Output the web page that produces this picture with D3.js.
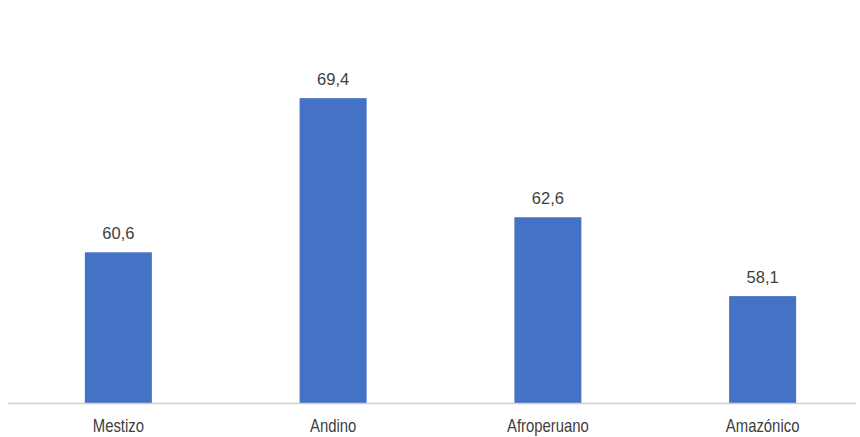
<!DOCTYPE html>
<html>
  <head>
    <meta charset="utf-8">
    <script src="https://d3js.org/d3.v7.min.js"></script>
    <style>
      body { margin: 0; background: #fff; }
      .lbl { font-family: "Liberation Sans Narrow", "Arial Narrow", "Liberation Sans", Arial, sans-serif; fill: #404040; }
    </style>
  </head>
  <body>
    <svg id="chart" width="860" height="437"></svg>
    <script>
      // Chart data
      var categories = ["Mestizo", "Andino", "Afroperuano", "Amazónico"];
      var values = [60.6, 69.4, 62.6, 58.1];

      var svg = d3.select("#chart");
      var baseY = 403;

      var x = d3.scaleBand()
        .domain(categories)
        .range([11, 870])
        .paddingInner(0.688)
        .paddingOuter(0.344);

      var y = d3.scaleLinear()
        .domain([52, 75])
        .range([baseY, 0]);

      // bars
      svg.selectAll("rect.bar")
        .data(values)
        .enter()
        .append("rect")
        .attr("class", "bar")
        .attr("x", function(d, i) { return x(categories[i]); })
        .attr("y", function(d) { return y(d); })
        .attr("width", x.bandwidth())
        .attr("height", function(d) { return baseY - y(d); })
        .attr("fill", "#4472C4");

      // baseline
      svg.append("line")
        .attr("x1", 8).attr("x2", 856)
        .attr("y1", baseY + 0.5).attr("y2", baseY + 0.5)
        .attr("stroke", "#d0d0d0")
        .attr("stroke-width", 1.5);

      // value labels
      svg.selectAll("text.val")
        .data(values)
        .enter()
        .append("text")
        .attr("class", "lbl val")
        .attr("x", function(d, i) { return x(categories[i]) + x.bandwidth() / 2; })
        .attr("y", function(d) { return y(d) - 13; })
        .attr("text-anchor", "middle")
        .attr("font-size", 16.5)
        .text(function(d) { return d3.format(".1f")(d).replace(".", ","); });

      // category labels (condensed look of the original)
      svg.selectAll("text.cat")
        .data(categories)
        .enter()
        .append("text")
        .attr("class", "lbl cat")
        .attr("transform", function(d) {
          return "translate(" + (x(d) + x.bandwidth() / 2) + ",432) scale(0.85,1)";
        })
        .attr("text-anchor", "middle")
        .attr("font-size", 17.5)
        .text(function(d) { return d; });
    </script>
  </body>
</html>
